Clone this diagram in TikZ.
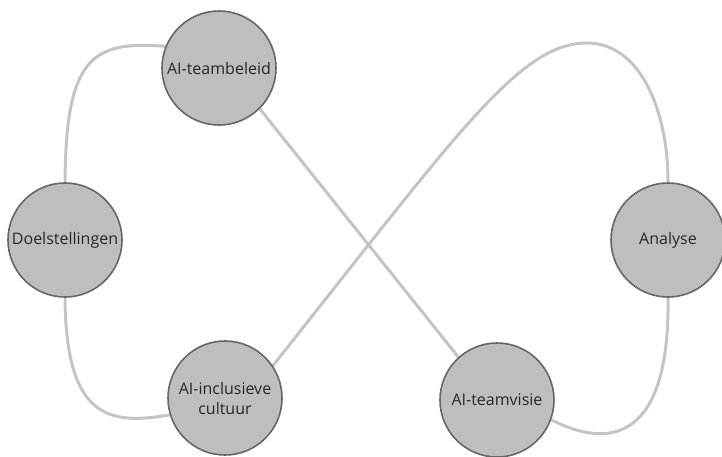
\documentclass[tikz,border=0pt]{standalone}
\usepackage{fontspec}
\setmainfont{Open Sans}
\usetikzlibrary{backgrounds}
\definecolor{cfill}{RGB}{190,190,193}
\definecolor{cborder}{RGB}{102,102,104}
\definecolor{cline}{RGB}{196,196,198}
\definecolor{ctext}{RGB}{40,40,40}
\tikzset{
  topic/.style={circle, draw=cborder, fill=cfill, line width=1.6pt, minimum size=114pt, inner sep=0pt, align=center, text=ctext, font=\fontsize{16}{20}\selectfont},
  link/.style={draw=cline, line width=3pt}
}
\begin{document}
\begin{tikzpicture}[x=1pt,y=-1pt]
\useasboundingbox (0,0) rectangle (722,456);
\node[topic] (tb) at (219,68) {AI-teambeleid};
\node[topic] (doel) at (65,240) {Doelstellingen};
\node[topic] (inc) at (225,398) {AI-inclusieve\\cultuur};
\node[topic] (tv) at (497,400) {AI-teamvisie};
\node[topic] (an) at (668,240) {Analyse};
\coordinate (peak) at (587,43);
\begin{pgfonlayer}{background}
\draw[link] (doel.north) .. controls (66,60) and (90,40) .. (tb.158);
\draw[link] (doel.south) .. controls (66,420) and (110,425) .. (inc.197);
\draw[link] (tb.-45) -- (tv.132);
\draw[link] (inc.34) .. controls (460,130) and (520,43) .. (peak) .. controls (640,43) and (668,110) .. (an.north);
\draw[link] (tv.-20) .. controls (610,450) and (670,440) .. (an.south);
\end{pgfonlayer}
\end{tikzpicture}
\end{document}
